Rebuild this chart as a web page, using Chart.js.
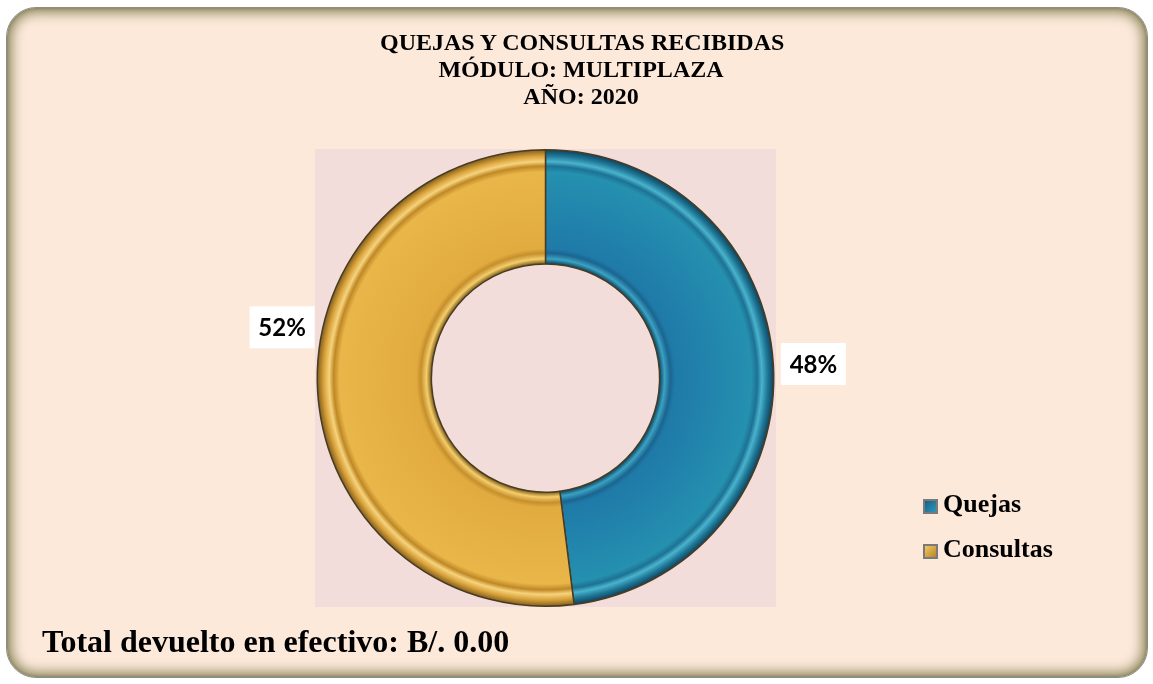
<!DOCTYPE html>
<html><head><meta charset="utf-8">
<script src="https://cdn.jsdelivr.net/npm/chart.js@4.4.0/dist/chart.umd.min.js"></script>
<style>
html,body{margin:0;padding:0;background:#fff;width:1153px;height:684px;overflow:hidden;}
#card{position:absolute;left:6px;top:7px;width:1140px;height:669px;border-radius:30px;background:#FCE9DA;border:1px solid #8d8d82;
 box-shadow: inset 0 0 12px 5px rgba(128,124,80,0.85), inset 0 0 3px 1px rgba(100,100,80,0.6);}
#c{position:absolute;left:0;top:0;}
.t{position:absolute;font-family:"Liberation Serif","Times New Roman",serif;font-weight:bold;color:#000;white-space:nowrap;}
#title{left:380px;width:402px;top:29px;text-align:center;font-size:24px;line-height:27px;}
#footer{left:42px;top:623px;font-size:32px;line-height:normal;}
.legt{position:absolute;left:943px;font-family:"Liberation Serif","Times New Roman",serif;font-weight:bold;font-size:26px;line-height:30px;white-space:nowrap;}
.sw{position:absolute;left:923px;width:11px;height:11px;border:2px solid #7a7a7a;}
</style></head>
<body>
<div id="card"></div>
<canvas id="c" width="1153" height="684"></canvas>
<div class="t" id="title"></div>
<div class="t" id="footer"></div>
<div id="legend"></div>
<script>
const titleLines = ['QUEJAS Y CONSULTAS RECIBIDAS', 'MÓDULO: MULTIPLAZA', 'AÑO: 2020'];
const footerText = 'Total devuelto en efectivo: B/. 0.00';
const categories = ['Quejas', 'Consultas'];
const values = [48, 52];

const palettes = [
  ['#0e4a68','#3ba2c2','#1b6590','#1f7aa8','#2590b0','#1d7293','#4ab3cd','#1f7897','#0c3c55'],
  ['#83631c','#f5cd6b','#c58f2c','#e2ab3f','#e9b649','#bf8826','#f6d37c','#d79f38','#74561c']
];
const stops = [0.5,0.52,0.545,0.565,0.9,0.925,0.945,0.97,1.0];
const legendSw = ['linear-gradient(135deg,#1a5f85,#2a98b8)','linear-gradient(135deg,#f2c860,#b8862a)'];

document.getElementById('title').innerHTML = titleLines.join('<br>');
document.getElementById('footer').textContent = footerText;
const legTextTops = [489, 534];
const legSwTops = [499, 544];
document.getElementById('legend').innerHTML = categories.map((c,i)=>
  `<span class="sw" style="top:${legSwTops[i]}px;background:${legendSw[i]}"></span><div class="legt" style="top:${legTextTops[i]}px">${c}</div>`).join('');

function grad(ctx, i){
  const chart = ctx.chart; const a = chart.chartArea;
  if(!a) return palettes[i][3];
  const meta = chart.getDatasetMeta(0);
  const el = meta.data[i];
  const cx = (a.left+a.right)/2, cy=(a.top+a.bottom)/2;
  const R = el && el.outerRadius ? el.outerRadius : Math.min(a.right-a.left,a.bottom-a.top)/2;
  const g = chart.ctx.createRadialGradient(cx,cy,0,cx,cy,R);
  stops.forEach((s,k)=>g.addColorStop(s,palettes[i][k]));
  return g;
}

const labelShift = [0.6, 14.5];
const bgPlugin = {
  id:'bg',
  beforeDraw(chart){
    const {ctx, chartArea:a} = chart;
    ctx.save(); ctx.fillStyle='#F2DDDA';
    ctx.fillRect(a.left,a.top,a.right-a.left,a.bottom-a.top); ctx.restore();
  },
  afterDatasetsDraw(chart){
    const ctx = chart.ctx; const meta = chart.getDatasetMeta(0);
    const total = values.reduce((s,v)=>s+v,0);
    ctx.save();
    ctx.font = 'bold 24px Lato, "Open Sans", sans-serif';
    ctx.textAlign='center'; ctx.textBaseline='middle';
    meta.data.forEach((arc,i)=>{
      const mid = (arc.startAngle+arc.endAngle)/2 + labelShift[i]*Math.PI/180;
      const r = arc.outerRadius + 40;
      const x = arc.x + r*Math.cos(mid), y = arc.y + r*Math.sin(mid);
      const txt = Math.round(values[i]/total*100)+'%';
      ctx.fillStyle='#fff'; ctx.fillRect(x-32.5,y-21,65,42);
      ctx.fillStyle='#000'; ctx.fillText(txt,x,y+1);
    });
    ctx.restore();
  }
};

new Chart(document.getElementById('c'), {
  type:'doughnut',
  data:{labels:categories, datasets:[{data:values,
    backgroundColor:(ctx)=>grad(ctx, ctx.dataIndex),
    borderColor:'#4a3c22', borderWidth:1.5, hoverOffset:0}]},
  options:{
    responsive:false, animation:false, cutout:'50%',
    layout:{padding:{left:315,right:377,top:149,bottom:77}},
    plugins:{legend:{display:false}, tooltip:{enabled:false}, title:{display:false}}
  },
  plugins:[bgPlugin]
});
</script>
</body></html>
